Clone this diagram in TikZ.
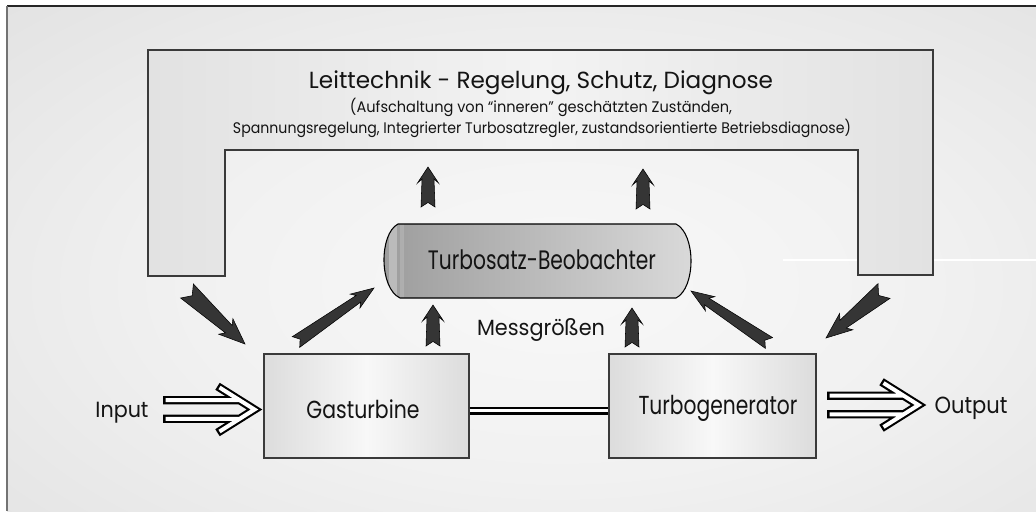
\documentclass[tikz,border=0pt]{standalone}
\usepackage{fontspec}
\setmainfont{Poppins}
\usetikzlibrary{calc}
\definecolor{txt}{HTML}{141414}
\definecolor{arrowgray}{HTML}{353535}
\definecolor{edge}{HTML}{3A3A3A}
\definecolor{boxedge}{HTML}{DCDCDC}
\definecolor{boxmid}{HTML}{F8F8F8}
\definecolor{bgA}{HTML}{F8F8F8}
\definecolor{bgB}{HTML}{F1F1F1}
\definecolor{bgC}{HTML}{C8C8C8}
\definecolor{uside}{HTML}{E2E2E2}
\definecolor{umid}{HTML}{F3F3F3}
\definecolor{beoL}{HTML}{9C9C9C}
\definecolor{beoR}{HTML}{DADADA}
\pgfdeclareradialshading{bgshade}{\pgfpoint{0bp}{0bp}}{color(0bp)=(bgA); color(12bp)=(bgB); color(50bp)=(bgC)}
\newcommand{\fw}[3]{\resizebox{#1}{\height}{\fontsize{#2}{#2}\selectfont #3}}
% fat dark arrow from tail #1 to tip #2; head length, head half width, neck half width, tail half width, notch (px)
\newcommand{\fatarr}[7]{%
\pgfmathsetlengthmacro\Ahl{#3*0.75pt}%
\pgfmathsetlengthmacro\Anl{(#3-4)*0.75pt}%
\pgfmathsetlengthmacro\Ahw{#4*0.75pt}%
\pgfmathsetlengthmacro\Anw{#5*0.75pt}%
\pgfmathsetlengthmacro\Atw{#6*0.75pt}%
\pgfmathsetlengthmacro\And{#7*0.75pt}%
\filldraw[fatarrow] (#2)
 -- ($(#2)!\Ahl!(#1)!\Ahw!90:(#1)$)
 -- ($(#2)!\Anl!(#1)!\Anw!90:(#1)$)
 -- ($(#1)!\Atw!-90:(#2)$)
 -- ($(#1)!\And!(#2)$)
 -- ($(#1)!\Atw!90:(#2)$)
 -- ($(#2)!\Anl!(#1)!\Anw!-90:(#1)$)
 -- ($(#2)!\Ahl!(#1)!\Ahw!-90:(#1)$)
 -- cycle;}
% hollow double arrow starting at #1
\newcommand{\hollowarr}[1]{%
\begin{scope}[shift={(#1)}]
\draw[line width=6.2pt, black, miter limit=20]
 (0,-9.3) -- (76,-9.3) (0,9.3) -- (76,9.3) (54.5,-23.2) -- (91.5,0) -- (54.5,23.2);
\draw[line width=3pt, white, miter limit=20]
 (2.5,-9.3) -- (76,-9.3) (2.5,9.3) -- (76,9.3) (56.5,-22) -- (91.5,0) -- (56.5,22);
\end{scope}}
\tikzset{
 lbl/.style={inner sep=0pt, text=txt, anchor=base},
 procbox/.style={draw=edge, line width=0.9pt, left color=boxedge, right color=boxedge, middle color=boxmid, inner sep=0pt, minimum height=78pt},
 fatarrow/.style={fill=arrowgray, draw=black, line width=0.4pt, line join=miter},
}
\begin{document}
\begin{tikzpicture}[x=0.75pt,y=-0.75pt]
\useasboundingbox (0,0) rectangle (1036,511);
\fill[white] (0,0) rectangle (1036,511);
% background
\begin{scope}
\clip (7,6) rectangle (1036,511);
\fill[bgC] (7,6) rectangle (1036,511);
\shade[shading=bgshade] (560,285) ellipse [x radius=580pt, y radius=300pt];
\end{scope}
\draw[black!85, line width=1.1pt] (7,6) -- (1036,6);
\draw[black!55, line width=1.6pt] (7,6) -- (7,511);
% faint white line
\draw[white, line width=0.8pt] (783,260) -- (1036,260);
% Leittechnik U-shape
\path[draw=edge, line width=1pt, left color=uside, right color=uside, middle color=umid]
 (148,50) -- (933,50) -- (933,275) -- (858,275) -- (858,150) -- (225,150) -- (225,276) -- (148,276) -- cycle;
\node[lbl] (lt) at (541,88) {\fw{348pt}{17.5pt}{Leittechnik - Regelung, Schutz, Diagnose}};
\node[lbl] (lt2) at (541,112.5) {\fw{286.5pt}{11.5pt}{(Aufschaltung von “inneren” geschätzten Zuständen,}};
\node[lbl] (lt3) at (542,133.5) {\fw{463.5pt}{11.5pt}{Spannungsregelung, Integrierter Turbosatzregler, zustandsorientierte Betriebsdiagnose)}};
% Beobachter
\path[left color=beoL, right color=beoR]
 (398,224) -- (676,224) .. controls (696,234) and (696,288) .. (676,298)
 -- (400,298) .. controls (379,288) and (379,234) .. (398,224) -- cycle;
\begin{scope}
\clip (398,224) -- (676,224) .. controls (696,234) and (696,288) .. (676,298)
 -- (400,298) .. controls (379,288) and (379,234) .. (398,224) -- cycle;
\fill[white, opacity=0.3] (389,220) rectangle (397,302);
\fill[white, opacity=0.15] (400,220) rectangle (404,302);
\end{scope}
\draw[black, line width=0.8pt]
 (398,224) -- (676,224) .. controls (696,234) and (696,288) .. (676,298)
 -- (400,298) .. controls (379,288) and (379,234) .. (398,224) -- cycle;
\node[lbl] (beo) at (542,269) {\fw{171pt}{20pt}{Turbosatz-Beobachter}};
% boxes
\node[procbox, minimum width=153.75pt] (gt) at (366.5,406) {};
\node[procbox, minimum width=155.25pt] (tg) at (712.5,406) {};
\node[lbl] (gtl) at (363,418.5) {\fw{84.75pt}{18.5pt}{Gasturbine}};
\node[lbl] (tgl) at (718,414.5) {\fw{119.25pt}{19.5pt}{Turbogenerator}};
\node[lbl] (mg) at (541,335.5) {\fw{96pt}{16.5pt}{Messgrößen}};
\node[lbl] (in) at (122,417.5) {\fw{39.75pt}{16.5pt}{Input}};
\node[lbl] (out) at (971,413.5) {\fw{54.75pt}{17.5pt}{Output}};
% shaft
\draw[black, line width=1.9pt, double=white, double distance=2.2pt]
 ([yshift=-3.4pt]gt.east) -- ([yshift=-3.4pt]tg.west);
% hollow arrows
\hollowarr{163,409.5}
\hollowarr{827,405}
% dark arrows
\coordinate (a1t) at (187,291); \coordinate (a1h) at (245,344);
\coordinate (a2t) at (296,342); \coordinate (a2h) at (374,288);
\coordinate (a3t) at (428,207); \coordinate (a3h) at (428,167);
\coordinate (a4t) at (643,209); \coordinate (a4h) at (643,169);
\coordinate (a5t) at (433,346); \coordinate (a5h) at (433,305);
\coordinate (a6t) at (632,347); \coordinate (a6h) at (632,308);
\coordinate (a7t) at (769,343); \coordinate (a7h) at (691,291);
\coordinate (a8t) at (884,291); \coordinate (a8h) at (826,338);
\fatarr{a1t}{a1h}{26}{10.5}{5}{9.5}{7}
\fatarr{a8t}{a8h}{26}{10.5}{5}{9.5}{7}
\fatarr{a2t}{a2h}{23}{8.5}{4}{6.5}{5}
\fatarr{a7t}{a7h}{23}{8.5}{4}{6.5}{5}
\fatarr{a3t}{a3h}{16}{10.5}{6}{7}{4.5}
\fatarr{a4t}{a4h}{16}{10.5}{6}{7}{4.5}
\fatarr{a5t}{a5h}{16}{10.5}{6}{7}{4.5}
\fatarr{a6t}{a6h}{16}{10.5}{6}{7}{4.5}
\end{tikzpicture}
\end{document}
